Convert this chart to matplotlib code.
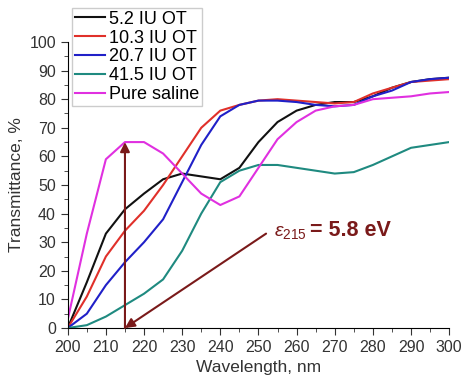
import numpy as np
import matplotlib.pyplot as plt
from matplotlib.ticker import MultipleLocator

plt.rcParams['font.family'] = ['Liberation Sans', 'DejaVu Sans']
plt.rcParams['mathtext.fontset'] = 'custom'
plt.rcParams['mathtext.it'] = 'Liberation Sans:italic'
plt.rcParams['mathtext.rm'] = 'Liberation Sans'

wl = [200, 205, 210, 215, 220, 225, 230, 235, 240, 245, 250,
      255, 260, 265, 270, 275, 280, 285, 290, 295, 300]

ot_5_2 = [0, 16, 33, 41.5, 47, 52, 54, 53, 52, 56, 65,
          72, 76, 78, 79, 79, 81, 84, 86, 87, 87.5]
ot_10_3 = [0, 11, 25, 34, 41, 50, 60, 70, 76, 78, 79.5,
           80, 79.5, 79, 78.5, 79, 82, 84, 86, 86.5, 87]
ot_20_7 = [0, 5, 15, 23, 30, 38, 51, 64, 74, 78, 79.5,
           79.5, 79, 78, 77.5, 78, 81, 83, 86, 87, 87.5]
ot_41_5 = [0, 1, 4, 8, 12, 17, 27, 40, 51, 55, 57,
           57, 56, 55, 54, 54.5, 57, 60, 63, 64, 65]
saline = [3, 33, 59, 65, 65, 61, 54, 47, 43, 46, 56,
          66, 72, 76, 77.5, 78, 80, 80.5, 81, 82, 82.5]

labels = ['5.2 IU OT', '10.3 IU OT', '20.7 IU OT', '41.5 IU OT', 'Pure saline']
colors = ['#111111', '#e0302a', '#2020c8', '#1f8a80', '#e030e0']

peak_wl = 215
peak_t = 65
label_xy = (252, 33)
arrow_col = '#7a1a1a'

fig = plt.figure(figsize=(4.64, 3.85), dpi=100)
ax = fig.add_axes([0.146, 0.148, 0.822, 0.743])

for y, lab, c in zip([ot_5_2, ot_10_3, ot_20_7, ot_41_5, saline], labels, colors):
    ax.plot(wl, y, color=c, lw=1.5, label=lab)

# vertical arrow at 215 nm
ax.annotate('', xy=(peak_wl, peak_t), xytext=(peak_wl, 0),
            arrowprops=dict(arrowstyle='-|>', color=arrow_col, lw=1.5,
                            mutation_scale=14, shrinkA=0, shrinkB=0))
# arrow from label to 215 nm
ax.annotate('', xy=(peak_wl, 0), xytext=label_xy,
            arrowprops=dict(arrowstyle='-|>', color=arrow_col, lw=1.5,
                            mutation_scale=14, shrinkA=0, shrinkB=0))
ax.text(label_xy[0] + 2, label_xy[1] + 0.5, r'$\varepsilon_{215}$', color=arrow_col,
        fontsize=14, va='center', ha='left')
ax.text(label_xy[0] + 11.5, label_xy[1] + 1, '= 5.8 eV', color=arrow_col,
        fontsize=15.5, fontweight='bold', va='center', ha='left')

ax.set_xlim(200, 300)
ax.set_ylim(0, 100)
ax.xaxis.set_major_locator(MultipleLocator(10))
ax.xaxis.set_minor_locator(MultipleLocator(5))
ax.yaxis.set_major_locator(MultipleLocator(10))
ax.yaxis.set_minor_locator(MultipleLocator(5))
ax.spines['top'].set_visible(False)
ax.spines['right'].set_visible(False)
ax.tick_params(which='major', direction='out', length=5, labelsize=11.5, colors='#333333')
ax.tick_params(which='minor', direction='out', length=3, colors='#333333')
ax.set_xlabel('Wavelength, nm', fontsize=12.5, color='#333333')
ax.set_ylabel('Transmittance, %', fontsize=12.5, color='#333333')

fig.legend(loc='upper left', bbox_to_anchor=(0.155, 0.979), fontsize=13,
           frameon=True, fancybox=False, edgecolor='#cccccc', framealpha=1,
           handlelength=1.7, handletextpad=0.2, borderpad=0.15, labelspacing=0.1,
           borderaxespad=0)

fig.savefig('out.png', dpi=100)
